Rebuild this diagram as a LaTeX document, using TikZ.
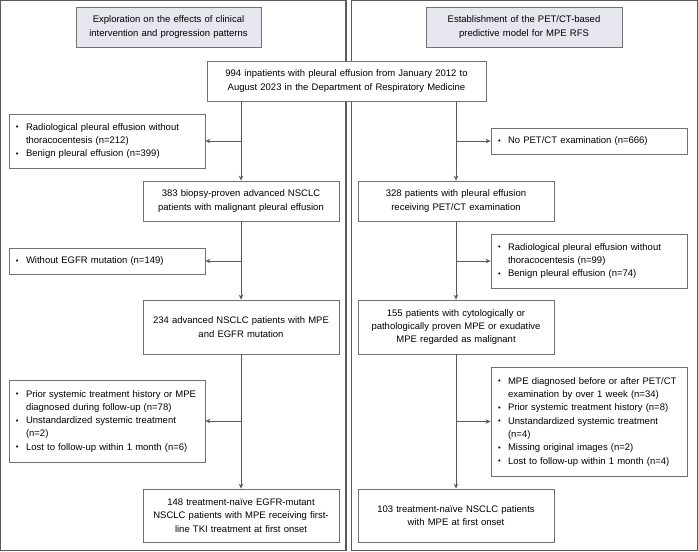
\documentclass[tikz,border=0pt]{standalone}
\usepackage{fontspec}
\usepackage{graphicx}
\setmainfont{Liberation Sans}
\usetikzlibrary{arrows.meta}
\definecolor{framegray}{HTML}{5A5A5A}
\definecolor{boxgray}{HTML}{707070}
\definecolor{headfill}{HTML}{E6E6EF}
\newcommand\bul{\makebox[10pt][l]{\raisebox{0.6pt}{\scalebox{0.8}{\textbullet}}}}
\newenvironment{items}{\begin{tabular}{@{}l@{}l@{}}}{\end{tabular}}
\begin{document}
\begin{tikzpicture}[x=1pt, y=-1pt, >={Stealth[length=5pt,width=4.5pt]},
  box/.style={draw=boxgray, line width=0.8pt, fill=white, inner sep=0pt,
    minimum width=196pt, text width=186pt, minimum height=#1, align=center,
    font=\fontsize{9.5}{13.3}\selectfont},
  list/.style={box=#1, text width=182pt, align=left},
  head/.style={box=40pt, fill=headfill},
  flow/.style={->, draw=framegray, line width=0.8pt}]

\useasboundingbox (0,0) rectangle (698,551);

% the two panels
\draw [framegray, line width=1.2pt] (0.6,0.6) rectangle (346,550.4);
\draw [framegray, line width=1.2pt] (351.5,0.6) rectangle (697.4,550.4);

\node [head, minimum width=185pt, text width=180pt] (headL) at (168.5,27)
  {Exploration on the effects of clinical\\intervention and progression patterns};
\node [head] (headR) at (524,27)
  {Establishment of the PET/CT-based\\predictive model for MPE RFS};

\node [box=40pt, minimum width=279pt, text width=270pt] (start) at (346.5,81)
  {994 inpatients with pleural effusion from January 2012 to\\August 2023 in the Department of Respiratory Medicine};

% left column
\node [list=54pt] (exA) at (107,141) {\begin{items}
  \bul & Radiological pleural effusion without\\
       & thoracocentesis (n=212)\\
  \bul & Benign pleural effusion (n=399)
  \end{items}};
\node [box=40pt] (nsclc) at (241,201)
  {383 biopsy-proven advanced NSCLC\\patients with malignant pleural effusion};
\node [list=26pt] (exB) at (107,261) {\begin{items}
  \bul & Without EGFR mutation (n=149)
  \end{items}};
\node [box=54pt] (egfr) at (241,327)
  {234 advanced NSCLC patients with MPE\\and EGFR mutation};
\node [list=82pt] (exC) at (107,421) {\begin{items}
  \bul & Prior systemic treatment history or MPE\\
       & diagnosed during follow-up (n=78)\\
  \bul & Unstandardized systemic treatment\\
       & (n=2)\\
  \bul & Lost to follow-up within 1 month (n=6)
  \end{items}};
\node [box=53pt] (tki) at (241,515.5)
  {148 treatment-naïve EGFR-mutant\\NSCLC patients with MPE receiving first-\\line TKI treatment at first onset};

% right column
\node [list=26pt] (exD) at (589,141) {\begin{items}
  \bul & No PET/CT examination (n=666)
  \end{items}};
\node [box=40pt] (pet) at (456,201)
  {328 patients with pleural effusion\\receiving PET/CT examination};
\node [list=54pt] (exE) at (589,261) {\begin{items}
  \bul & Radiological pleural effusion without\\
       & thoracocentesis (n=99)\\
  \bul & Benign pleural effusion (n=74)
  \end{items}};
\node [box=54pt] (mpe) at (456,327)
  {155 patients with cytologically or\\pathologically proven MPE or exudative\\MPE regarded as malignant};
\node [list=109pt] (exF) at (589,421.5) {\begin{items}
  \bul & MPE diagnosed before or after PET/CT\\
       & examination by over 1 week (n=34)\\
  \bul & Prior systemic treatment history (n=8)\\
  \bul & Unstandardized systemic treatment\\
       & (n=4)\\
  \bul & Missing original images (n=2)\\
  \bul & Lost to follow-up within 1 month (n=4)
  \end{items}};
\node [box=53pt] (naive) at (456,515.5)
  {103 treatment-naïve NSCLC patients\\with MPE at first onset};

\draw [flow] (nsclc.north |- start.south) -- (nsclc.north);
\draw [flow] (nsclc.north |- exA.east) -- (exA.east);
\draw [flow] (nsclc.south) -- (egfr.north);
\draw [flow] (nsclc.south |- exB.east) -- (exB.east);
\draw [flow] (egfr.south) -- (tki.north);
\draw [flow] (egfr.south |- exC.east) -- (exC.east);

\draw [flow] (pet.north |- start.south) -- (pet.north);
\draw [flow] (pet.north |- exD.west) -- (exD.west);
\draw [flow] (pet.south) -- (mpe.north);
\draw [flow] (pet.south |- exE.west) -- (exE.west);
\draw [flow] (mpe.south) -- (naive.north);
\draw [flow] (mpe.south |- exF.west) -- (exF.west);

\end{tikzpicture}
\end{document}
